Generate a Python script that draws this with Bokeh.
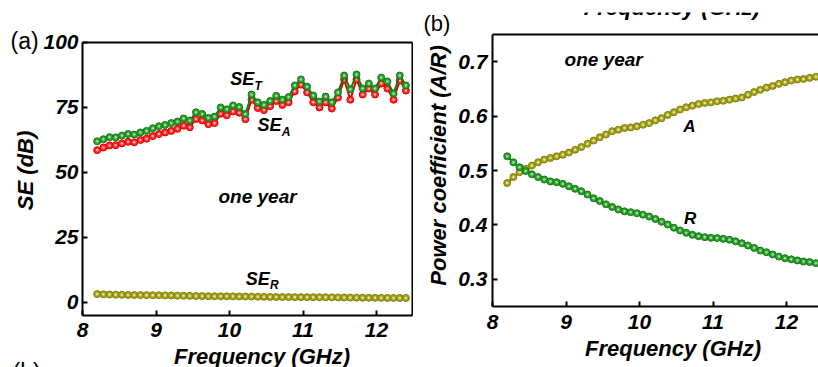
import math
from bokeh.plotting import figure
from bokeh.models import FixedTicker, Label, LinearAxis, Range1d, Spacer
from bokeh.layouts import row, column
from bokeh.embed import file_html
from bokeh.resources import INLINE

FONT = "Liberation Sans"

freq = [8.200, 8.284, 8.368, 8.452, 8.536, 8.620, 8.704, 8.788, 8.872, 8.956,
        9.040, 9.124, 9.208, 9.292, 9.376, 9.460, 9.544, 9.628, 9.712, 9.796,
        9.880, 9.964, 10.048, 10.132, 10.216, 10.300, 10.384, 10.468, 10.552, 10.636,
        10.720, 10.804, 10.888, 10.972, 11.056, 11.140, 11.224, 11.308, 11.392, 11.476,
        11.560, 11.644, 11.728, 11.812, 11.896, 11.980, 12.064, 12.148, 12.232, 12.316,
        12.400]

se_t = [62.0, 62.8, 63.6, 63.5, 64.2, 64.8, 64.6, 65.4, 66.0, 67.0,
        67.8, 68.3, 69.0, 69.6, 70.8, 70.0, 73.2, 72.5, 71.0, 71.5,
        75.0, 74.3, 75.8, 75.2, 72.5, 80.0, 77.0, 76.0, 77.5, 79.5,
        78.0, 79.0, 83.5, 85.8, 83.0, 79.6, 77.3, 79.2, 77.0, 80.8,
        87.3, 82.0, 87.7, 82.3, 84.2, 82.3, 86.5, 85.0, 80.4, 87.3,
        83.5]

se_a = [58.6, 59.6, 60.4, 60.5, 61.2, 61.8, 61.6, 62.5, 63.0, 64.0,
        64.8, 65.4, 66.0, 66.8, 68.0, 67.4, 70.6, 70.0, 68.6, 69.0,
        72.6, 72.0, 73.5, 73.0, 70.5, 78.0, 74.8, 74.0, 75.5, 77.5,
        76.0, 77.0, 81.2, 83.8, 80.8, 77.0, 75.0, 77.0, 74.6, 78.8,
        85.8, 78.0, 85.8, 80.0, 82.3, 80.0, 84.2, 82.3, 78.0, 85.4,
        81.5]

se_r = [3.24, 3.14, 3.06, 3.01, 2.95, 2.91, 2.87, 2.84, 2.83, 2.80,
        2.77, 2.73, 2.69, 2.64, 2.59, 2.55, 2.50, 2.47, 2.43, 2.40,
        2.39, 2.38, 2.36, 2.33, 2.30, 2.26, 2.22, 2.18, 2.15, 2.12,
        2.09, 2.08, 2.06, 2.05, 2.05, 2.04, 2.03, 2.01, 1.98, 1.95,
        1.92, 1.89, 1.87, 1.84, 1.82, 1.80, 1.79, 1.77, 1.76, 1.75,
        1.74]

coef_a = [0.477, 0.488, 0.497, 0.503, 0.509, 0.515, 0.520, 0.523, 0.526, 0.529,
          0.533, 0.538, 0.543, 0.549, 0.555, 0.561, 0.566, 0.572, 0.575, 0.578,
          0.579, 0.581, 0.584, 0.587, 0.592, 0.596, 0.602, 0.607, 0.612, 0.616,
          0.619, 0.622, 0.624, 0.625, 0.627, 0.628, 0.630, 0.632, 0.634, 0.639,
          0.644, 0.648, 0.652, 0.655, 0.659, 0.662, 0.665, 0.667, 0.668, 0.670,
          0.672]

coef_r = [0.526, 0.515, 0.506, 0.499, 0.493, 0.488, 0.4835, 0.480, 0.4785, 0.4755,
          0.471, 0.4665, 0.462, 0.456, 0.449, 0.444, 0.438, 0.433, 0.4285, 0.425,
          0.4235, 0.4217, 0.419, 0.4155, 0.411, 0.406, 0.401, 0.395, 0.390, 0.3857,
          0.382, 0.3795, 0.3777, 0.3765, 0.376, 0.3747, 0.373, 0.370, 0.3666, 0.3624,
          0.358, 0.353, 0.350, 0.346, 0.342, 0.339, 0.337, 0.335, 0.333, 0.332,
          0.330]

x_ticks = [8, 9, 10, 11, 12]
se_ticks = [0, 25, 50, 75, 100]
coef_ticks = [0.3, 0.4, 0.5, 0.6, 0.7]

GREEN = ("#137a13", "#2f9f2f", "#a8dca8")
RED = ("#e00000", "#ff2a2a", "#ffb4b4")
OLIVE = ("#80800a", "#a4a41e", "#e4e4a0")


def series(p, x, y, colors):
    edge, fill, hi = colors
    p.line(x, y, line_color=edge, line_width=2)
    p.scatter(x, y, size=7, fill_color=fill, line_color=edge, line_width=1)
    p.scatter(x, y, size=2.6, fill_color=hi, line_color=None)


def make_axis(p, place, loc, bounds, ticks, standoff):
    ax = LinearAxis(fixed_location=loc, bounds=bounds, ticker=FixedTicker(ticks=ticks),
                    axis_line_color="black", axis_line_width=2,
                    major_tick_line_color="black", major_tick_line_width=2,
                    major_tick_in=5, major_tick_out=0, minor_tick_line_color=None,
                    major_label_standoff=standoff,
                    major_label_text_font=FONT, major_label_text_font_style="bold italic",
                    major_label_text_font_size="21px", major_label_text_color="black")
    p.add_layout(ax, place)
    return ax


def new_fig(w, h, xr, yr):
    p = figure(width=w, height=h, x_range=Range1d(*xr), y_range=Range1d(*yr),
               output_backend="svg", toolbar_location=None,
               x_axis_type=None, y_axis_type=None, min_border=0,
               min_border_left=0, min_border_right=0, min_border_top=0, min_border_bottom=0)
    p.grid.visible = False
    p.outline_line_color = None
    p.background_fill_color = "white"
    p.border_fill_color = "white"
    return p


def label(p, x, y, text, size, style_="bold italic", align="left", angle=0.0):
    p.add_layout(Label(x=x, y=y, text=text, text_font=FONT, text_font_size=size,
                       text_font_style=style_, text_align=align, text_baseline="middle",
                       angle=angle, text_color="black"))


# ---------------- panel (a) ----------------
p1 = new_fig(413, 367, (6.88435, 12.50340), (-25.0, 116.1538))
make_axis(p1, "left", 8, (-5, 100), se_ticks, 4)
make_axis(p1, "below", -5, (8, 12.49), x_ticks, 8)
make_axis(p1, "above", 100, (8, 12.49), [], 0)
make_axis(p1, "right", 12.49, (-5, 100), [], 0)

series(p1, freq, se_r, OLIVE)
series(p1, freq, se_a, RED)
series(p1, freq, se_t, GREEN)

label(p1, 7.2245, 50.8, "SE (dB)", "22px", align="center", angle=math.pi / 2)
label(p1, 10.442, -20.7, "Frequency (GHz)", "22px", align="center")
label(p1, 7.0204, 100.7, "(a)", "23px", "normal")
label(p1, 7.0476, -26.8, "(b)", "23px", "normal")
label(p1, 10.01, 85.8, "SE", "18px")
label(p1, 10.34, 83.3, "T", "12px")
label(p1, 10.38, 68.1, "SE", "18px")
label(p1, 10.71, 65.6, "A", "12px")
label(p1, 10.22, 9.2, "SE", "18px")
label(p1, 10.55, 6.9, "R", "12px")
label(p1, 9.85, 40.8, "one year", "19px")

# ---------------- panel (b) ----------------
p2 = new_fig(405, 355, (6.92517, 12.43537), (0.13853, 0.78991))
make_axis(p2, "left", 8, (0.25, 0.75), coef_ticks, 5)
make_axis(p2, "below", 0.25, (8, 12.43537), x_ticks, 8)
make_axis(p2, "above", 0.75, (8, 12.43537), [], 0)

series(p2, freq, coef_a, OLIVE)
series(p2, freq, coef_r, GREEN)

label(p2, 7.2653, 0.5092, "Power coefficient (A/R)", "22px", align="center", angle=math.pi / 2)
label(p2, 10.456, 0.1736, "Frequency (GHz)", "22px", align="center")
label(p2, 10.44, 0.7983, "Frequency (GHz)", "22px", align="center")
label(p2, 7.0612, 0.769, "(b)", "22px", "normal")
label(p2, 8.98, 0.704, "one year", "19px")
label(p2, 10.68, 0.581, "A", "17px", align="center")
label(p2, 10.69, 0.412, "R", "17px", align="center")

layout = row(p1, column(Spacer(width=405, height=12), p2))

open("out.html", "w").write(file_html(layout, INLINE))
